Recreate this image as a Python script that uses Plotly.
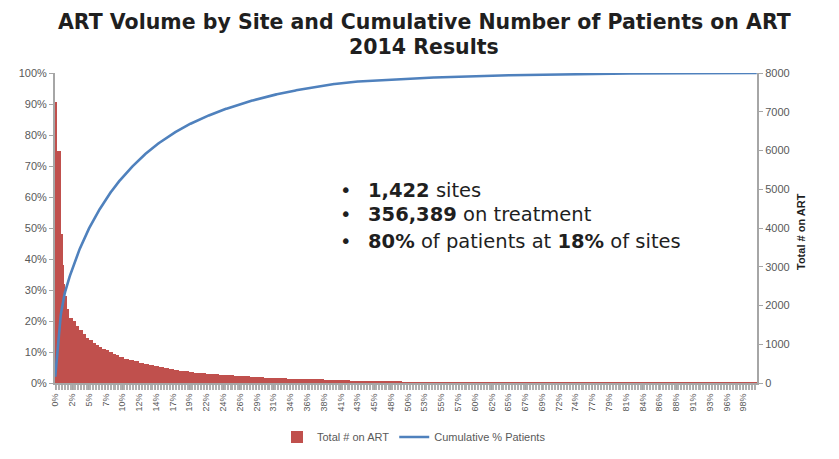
import numpy as np
import plotly.graph_objects as go

# Sites sorted by volume: patients per site (run-length table)
site_volume = [7250, 6000, 3850, 3050, 2560, 2240, 1920, 1680, 1600, 1480,
               1360, 1265, 1170, 1105, 1040, 975, 930, 890, 850, 810,
               760, 712, 672, 632, 592, 560, 528, 496, 464, 432,
               408, 384, 364, 344, 320, 300, 282, 265, 248, 234,
               220, 207, 195, 183, 171, 160, 150, 140, 130, 120,
               110, 100, 92, 84, 76, 35, 22, 12, 6, 1]
site_count = [4, 8, 3, 2, 3, 3, 4, 9, 6, 6,
              7, 7, 6, 7, 7, 6, 7, 7, 7, 7,
              7, 6, 10, 10, 10, 11, 10, 10, 10, 10,
              10, 10, 10, 11, 10, 10, 10, 11, 13, 13,
              14, 15, 15, 15, 16, 15, 15, 15, 15, 15,
              25, 25, 25, 27, 27, 104, 150, 150, 236, 185]

x_tick_labels = ["0%", "2%", "5%", "7%", "10%", "12%", "14%", "17%", "19%", "22%",
                 "24%", "26%", "29%", "31%", "34%", "36%", "38%", "41%", "43%", "45%",
                 "48%", "50%", "53%", "55%", "57%", "60%", "62%", "65%", "67%", "69%",
                 "72%", "74%", "77%", "79%", "81%", "84%", "86%", "88%", "91%", "93%",
                 "96%", "98%"]
label_interval = 34

volumes = np.repeat(site_volume, site_count)
n_sites = len(volumes)
site_idx = np.arange(n_sites)
cum_pct = np.cumsum(volumes) / volumes.sum()

tick_vals = [k * label_interval for k in range(len(x_tick_labels))]

RED = "#C0504D"
BLUE = "#4F81BD"
GRAY = "#595959"
AX = "#A6A6A6"
FONT = "Liberation Sans"
TXT = "#1f1f1f"

# page body has an 8px margin: plot area lands at x 55..757, y 73..383 on screen
ML, MR, MT, MB = 47, 90, 65, 84

fig = go.Figure()
fig.add_trace(go.Bar(
    x=site_idx, y=volumes, name="Total # on ART",
    marker=dict(color=RED, line=dict(width=0)), yaxis="y",
))
fig.add_trace(go.Scatter(
    x=site_idx, y=cum_pct, name="Cumulative % Patients", mode="lines",
    line=dict(color=BLUE, width=2.6), yaxis="y2",
))

fig.update_layout(
    template="none",
    width=839, height=459,
    margin=dict(l=ML, r=MR, t=MT, b=MB, autoexpand=False),
    paper_bgcolor="white", plot_bgcolor="white",
    bargap=0,
    font=dict(family=FONT, color=GRAY, size=10),
    xaxis=dict(
        range=[-0.5, n_sites - 0.5], automargin=False, color=GRAY,
        tickmode="array", tickvals=tick_vals, ticktext=x_tick_labels,
        tickangle=-90, tickfont=dict(size=9, color=GRAY),
        showgrid=False, zeroline=False,
        showline=True, linecolor=AX, linewidth=2,
        ticks="outside", ticklen=5, tickcolor=AX,
        minor=dict(ticks="outside", dtick=3, ticklen=5, tickcolor="#B0B0B0", tickwidth=1),
    ),
    yaxis=dict(
        side="right", range=[0, 8000], dtick=1000, automargin=False, color=GRAY,
        showgrid=False, zeroline=False,
        showline=True, linecolor=AX, linewidth=2,
        ticks="outside", ticklen=4, tickcolor=AX,
        tickfont=dict(size=11, color=GRAY),
    ),
    yaxis2=dict(
        overlaying="y", side="left", range=[0, 1], dtick=0.1, tickformat=".0%",
        automargin=False, color=GRAY,
        showgrid=False, zeroline=False,
        showline=True, linecolor=AX, linewidth=2,
        ticks="outside", ticklen=4, tickcolor=AX,
        tickfont=dict(size=11, color=GRAY),
    ),
    legend=dict(
        orientation="h", x=406 / 839, xanchor="center", xref="container",
        y=1 - 429 / 459, yanchor="middle", yref="container",
        font=dict(size=11, color=GRAY), traceorder="normal",
    ),
    showlegend=True,
)


def px_to_paper(sx, sy):
    return (sx - 55) / 702, (383 - sy) / 310


# Title lines
for txt, py in [("<b>ART Volume by Site and Cumulative Number of Patients on ART</b>", 22),
                ("<b>2014 Results</b>", 47)]:
    ax_, ay_ = px_to_paper(424, py)
    fig.add_annotation(x=ax_, xref="paper", y=ay_, yref="paper",
                       text=txt, showarrow=False, xanchor="center", yanchor="middle",
                       font=dict(family="DejaVu Sans", size=20.5, color=TXT))

# right axis title
rx, ry = px_to_paper(801, 232)
fig.add_annotation(x=rx, y=ry, xref="paper", yref="paper", text="<b>Total # on ART</b>",
                   textangle=-90, showarrow=False, xanchor="center", yanchor="middle",
                   font=dict(family=FONT, size=11, color=TXT))

bullets = ["<b>1,422</b> sites",
           "<b>356,389</b> on treatment",
           "<b>80%</b> of patients at <b>18%</b> of sites"]
ys = [190, 215, 241]
for txt, py in zip(bullets, ys):
    bx, yy = px_to_paper(338, py)
    tx, _ = px_to_paper(366, py)
    fig.add_annotation(x=bx, y=yy, xref="paper", yref="paper", text="•",
                       showarrow=False, xanchor="left", yanchor="middle",
                       font=dict(family="DejaVu Sans", size=19.5, color=TXT))
    fig.add_annotation(x=tx, y=yy, xref="paper", yref="paper", text=txt,
                       showarrow=False, xanchor="left", yanchor="middle",
                       font=dict(family="DejaVu Sans", size=19.5, color=TXT))

fig.write_html("out.html")
